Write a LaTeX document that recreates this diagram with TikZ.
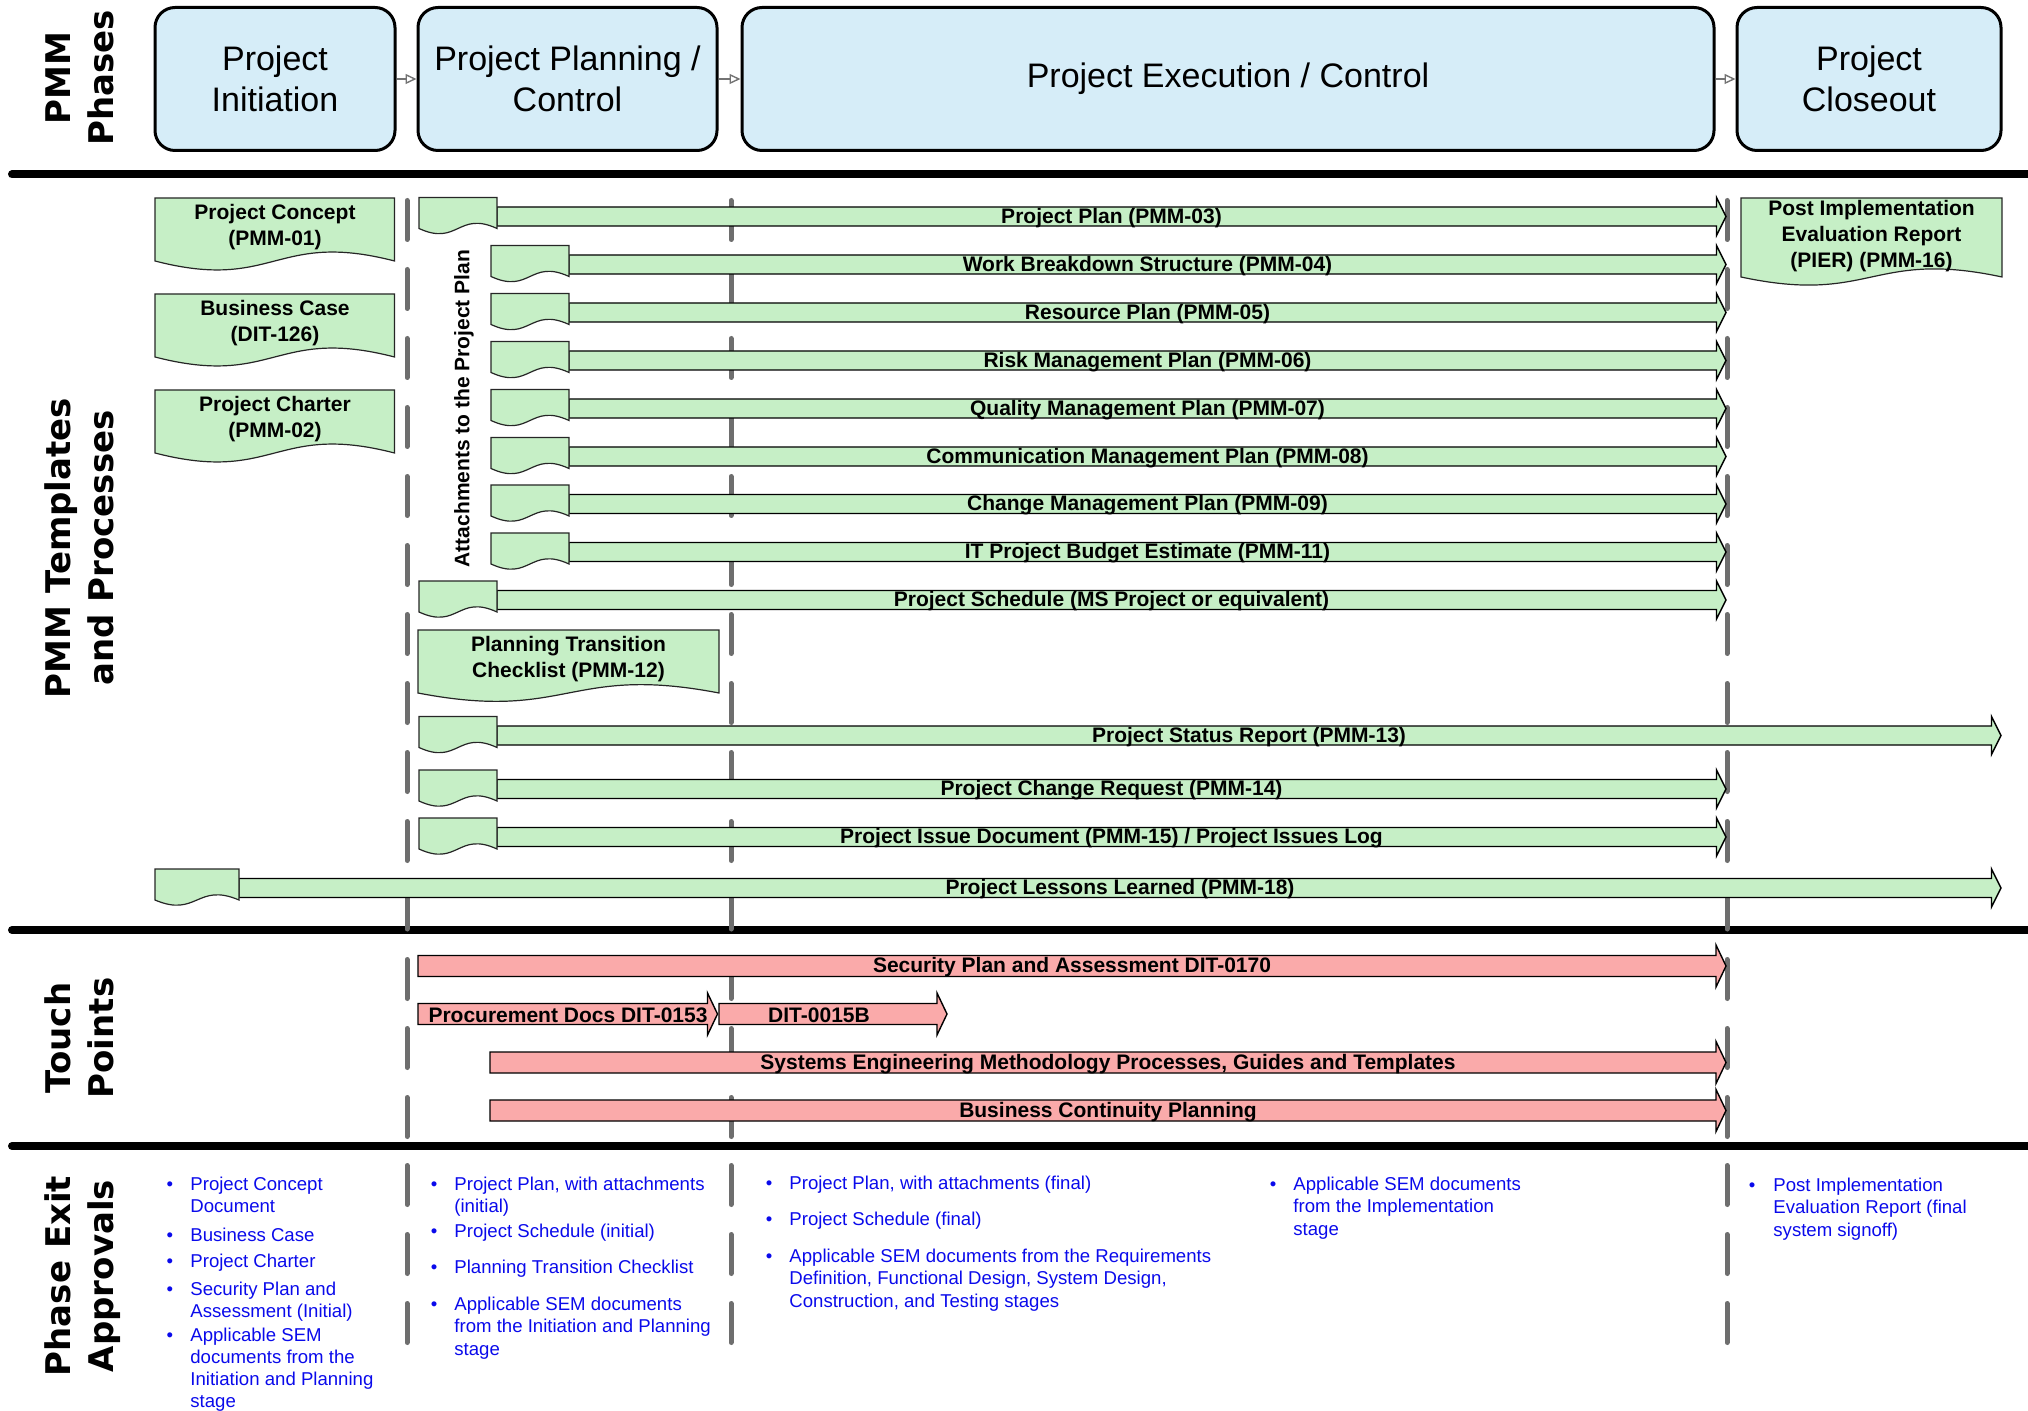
\documentclass[tikz,border=0pt]{standalone}
\usepackage{fontspec}
\setmainfont{Liberation Sans}
\newfontfamily\sidefont{DejaVu Sans}
\usetikzlibrary{arrows.meta}
\definecolor{phaseblue}{RGB}{214,237,248}
\definecolor{docgreen}{RGB}{198,239,198}
\definecolor{tppink}{RGB}{250,170,170}
\definecolor{dashgray}{RGB}{110,110,110}
\definecolor{exitblue}{RGB}{10,10,235}

% document shape: x1, x2, top, side bottom, wave
\newcommand{\DocShape}[5]{%
  \draw[docbox] (#1,#3) -- (#2,#3) -- (#2,#4) .. controls ({(#1+#2)/2},#4-#5) and ({(#1+#2)/2},#4+#5) .. (#1,#4) -- cycle;}
% small document at start of a bar: x1, x2, centre y
\newcommand{\SmallDoc}[3]{\DocShape{#1}{#2}{#3-19}{#3+12}{18}}
% green bar arrow: name, x0, tip, y, label
\newcommand{\GArrow}[5]{%
  \draw[greenbar] (#2,#4-9.5) -- (#3-9.5,#4-9.5) -- (#3-9.5,#4-19) -- (#3,#4) -- (#3-9.5,#4+19) -- (#3-9.5,#4+9.5) -- (#2,#4+9.5) -- cycle;
  \node[barlabel] (#1) at ({(#2+#3)/2},#4) {#5};}
% pink bar arrow: name, x0, tip, y, label, label x
\newcommand{\PArrow}[6]{%
  \draw[pinkbar] (#2,#4-10.5) -- (#3-10,#4-10.5) -- (#3-10,#4-21) -- (#3,#4) -- (#3-10,#4+21) -- (#3-10,#4+10.5) -- (#2,#4+10.5) -- cycle;
  \node[barlabel] (#1) at (#6,#4) {#5};}

\begin{document}
\begin{tikzpicture}[x=0.5pt,y=-0.5pt,
  phase/.style={draw=black, line width=1.5pt, fill=phaseblue, rounded corners=10pt, align=center, inner sep=0pt, font=\fontsize{17}{20.75}\selectfont},
  phaselink/.style={draw=black!55, line width=0.7pt, -{Triangle[open, length=5.5pt, width=5pt]}},
  separator/.style={line width=4pt, line cap=round, draw=black},
  vdash/.style={draw=dashgray, line width=2.5pt, line cap=round, dash pattern=on 19.5pt off 15pt},
  greenbar/.style={draw=black, line width=0.7pt, fill=docgreen},
  pinkbar/.style={draw=black, line width=0.7pt, fill=tppink},
  docbox/.style={draw=black!85, line width=0.6pt, fill=docgreen},
  barlabel/.style={font=\bfseries\fontsize{10.5}{13}\selectfont, inner sep=0pt, yshift=-0.7pt},
  doctext/.style={font=\bfseries\fontsize{10.5}{13}\selectfont, align=center, inner sep=0pt},
  docshift/.style={yshift=-1.25pt},
  sidelabel/.style={rotate=90, align=center, inner sep=0pt, font=\sidefont\bfseries\fontsize{17}{21.5}\selectfont},
  exittext/.style={anchor=base west, inner sep=0pt, text=exitblue, font=\fontsize{9.3}{11.25}\selectfont},
  bulletmark/.style={anchor=base, inner sep=0pt, text=exitblue, font=\fontsize{9.3}{11.25}\selectfont},
]
\useasboundingbox (0,0) rectangle (2028,1411);

% ---------- side labels ----------
\node[sidelabel] (sphases) at (80,78) {PMM\\Phases};
\node[sidelabel] (stemplates) at (79,548) {PMM Templates\\and Processes};
\node[sidelabel] (stouch) at (79,1038) {Touch\\Points};
\node[sidelabel] (sexit) at (83,1276) {Phase Exit\\Approvals};

% ---------- phases ----------
\node[phase, minimum width=120pt, minimum height=71.5pt] (ph1) at (275,79) {Project\\Initiation};
\node[phase, minimum width=149.5pt, minimum height=71.5pt] (ph2) at (567.5,79) {Project Planning /\\Control};
\node[phase, minimum width=486pt, minimum height=71.5pt] (ph3) at (1228,79) {Project Execution / Control};
\node[phase, minimum width=132pt, minimum height=71.5pt] (ph4) at (1869,79) {Project\\Closeout};
\draw[phaselink] (ph1.east) -- (ph2.west);
\draw[phaselink] (ph2.east) -- (ph3.west);
\draw[phaselink] (ph3.east) -- (ph4.west);

% ---------- separators ----------
\draw[separator] (12,174.5) -- (2040,174.5);
\draw[separator] (12,930) -- (2040,930);
\draw[separator] (12,1146) -- (2040,1146);

% ---------- dashed phase boundaries ----------
\foreach \x in {407,731,1727} {
  \draw[vdash] (\x,200.5) -- (\x,929);
  \draw[vdash] (\x,959.5) -- (\x,1142);
  \draw[vdash] (\x,1165.5) -- (\x,1345);
}

% ---------- templates: initiation documents ----------
\DocShape{155}{394.5}{198}{261}{31}
\node[doctext, docshift] (concept) at (275,225) {Project Concept\\(PMM-01)};
\DocShape{155}{394.5}{294}{357}{31}
\node[doctext, docshift] (bcase) at (275,321) {Business Case\\(DIT-126)};
\DocShape{155}{394.5}{390}{453}{31}
\node[doctext, docshift] (charter) at (275,416.5) {Project Charter\\(PMM-02)};

% ---------- templates: planning bars ----------
\GArrow{plan}{497}{1726}{216.5}{Project Plan (PMM-03)}
\SmallDoc{419}{497}{216.5}
\GArrow{wbs}{569}{1726}{264.5}{Work Breakdown Structure (PMM-04)}
\SmallDoc{491}{569}{264.5}
\GArrow{resource}{569}{1726}{312.5}{Resource Plan (PMM-05)}
\SmallDoc{491}{569}{312.5}
\GArrow{risk}{569}{1726}{360.5}{Risk Management Plan (PMM-06)}
\SmallDoc{491}{569}{360.5}
\GArrow{quality}{569}{1726}{408.5}{Quality Management Plan (PMM-07)}
\SmallDoc{491}{569}{408.5}
\GArrow{comm}{569}{1726}{456.5}{Communication Management Plan (PMM-08)}
\SmallDoc{491}{569}{456.5}
\GArrow{change}{569}{1726}{504}{Change Management Plan (PMM-09)}
\SmallDoc{491}{569}{504}
\GArrow{budget}{569}{1726}{552}{IT Project Budget Estimate (PMM-11)}
\SmallDoc{491}{569}{552}
\GArrow{schedule}{497}{1726}{600}{Project Schedule (MS Project or equivalent)}
\SmallDoc{419}{497}{600}
\node[doctext, rotate=90] (attach) at (464,408.5) {Attachments to the Project Plan};

\DocShape{418}{719}{630}{693}{29}
\node[doctext, docshift] (ptc) at (568.5,657) {Planning Transition\\Checklist (PMM-12)};

\GArrow{status}{497}{2001}{735.5}{Project Status Report (PMM-13)}
\SmallDoc{419}{497}{735.5}
\GArrow{pcr}{497}{1726}{789}{Project Change Request (PMM-14)}
\SmallDoc{419}{497}{789}
\GArrow{issue}{497}{1726}{837}{Project Issue Document (PMM-15) / Project Issues Log}
\SmallDoc{419}{497}{837}
\GArrow{lessons}{239}{2001}{888}{Project Lessons Learned (PMM-18)}
\SmallDoc{155}{239}{888}

\DocShape{1741}{2002}{198}{277}{28}
\node[doctext, docshift] (pier) at (1871.5,234) {Post Implementation\\Evaluation Report\\(PIER) (PMM-16)};

% ---------- touch points ----------
\PArrow{security}{418}{1726}{966}{Security Plan and Assessment DIT-0170}{1072}
\PArrow{dit15}{719}{947}{1014}{DIT-0015B}{819}
\PArrow{procure}{418}{717.5}{1014}{Procurement Docs DIT-0153}{568}
\PArrow{sem}{490}{1726}{1062.5}{Systems Engineering Methodology Processes, Guides and Templates}{1108}
\PArrow{bcp}{490}{1726}{1110.5}{Business Continuity Planning}{1108}

% ---------- phase exit approvals ----------
% column 1
\node[bulletmark] (b11) at (170,1190) {•};
\node[exittext] (e11a) at (190,1190) {Project Concept};
\node[exittext] (e11b) at (190,1212.5) {Document};
\node[bulletmark] (b12) at (170,1241) {•};
\node[exittext] (e12) at (190,1241) {Business Case};
\node[bulletmark] (b13) at (170,1267) {•};
\node[exittext] (e13) at (190,1267) {Project Charter};
\node[bulletmark] (b14) at (170,1295) {•};
\node[exittext] (e14a) at (190,1295) {Security Plan and};
\node[exittext] (e14b) at (190,1317.5) {Assessment (Initial)};
\node[bulletmark] (b15) at (170,1341) {•};
\node[exittext] (e15a) at (190,1341) {Applicable SEM};
\node[exittext] (e15b) at (190,1363) {documents from the};
\node[exittext] (e15c) at (190,1385) {Initiation and Planning};
\node[exittext] (e15d) at (190,1407) {stage};
% column 2
\node[bulletmark] (b21) at (434,1190) {•};
\node[exittext] (e21a) at (454,1190) {Project Plan, with attachments};
\node[exittext] (e21b) at (454,1212.5) {(initial)};
\node[bulletmark] (b22) at (434,1237) {•};
\node[exittext] (e22) at (454,1237) {Project Schedule (initial)};
\node[bulletmark] (b23) at (434,1273) {•};
\node[exittext] (e23) at (454,1273) {Planning Transition Checklist};
\node[bulletmark] (b24) at (434,1310) {•};
\node[exittext] (e24a) at (454,1310) {Applicable SEM documents};
\node[exittext] (e24b) at (454,1332.5) {from the Initiation and Planning};
\node[exittext] (e24c) at (454,1355) {stage};
% column 3
\node[bulletmark] (b31) at (769,1189) {•};
\node[exittext] (e31) at (789,1189) {Project Plan, with attachments (final)};
\node[bulletmark] (b32) at (769,1225) {•};
\node[exittext] (e32) at (789,1225) {Project Schedule (final)};
\node[bulletmark] (b33) at (769,1262) {•};
\node[exittext] (e33a) at (789,1262) {Applicable SEM documents from the Requirements};
\node[exittext] (e33b) at (789,1284.5) {Definition, Functional Design, System Design,};
\node[exittext] (e33c) at (789,1307) {Construction, and Testing stages};
% column 4
\node[bulletmark] (b41) at (1273,1190) {•};
\node[exittext] (e41a) at (1293,1190) {Applicable SEM documents};
\node[exittext] (e41b) at (1293,1212.5) {from the Implementation};
\node[exittext] (e41c) at (1293,1235) {stage};
% column 5
\node[bulletmark] (b51) at (1752,1191) {•};
\node[exittext] (e51a) at (1773,1191) {Post Implementation};
\node[exittext] (e51b) at (1773,1213.5) {Evaluation Report (final};
\node[exittext] (e51c) at (1773,1236) {system signoff)};
\end{tikzpicture}
\end{document}
